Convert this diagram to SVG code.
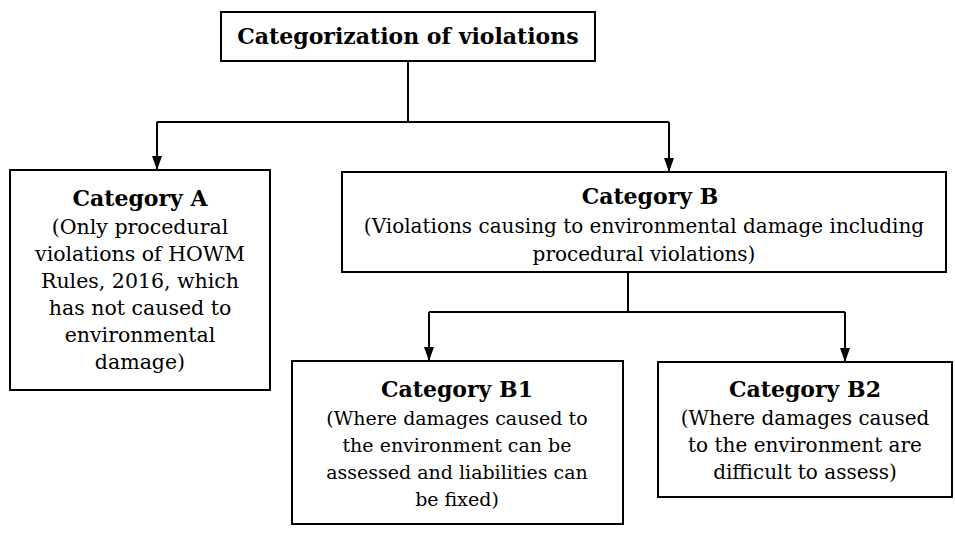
<svg xmlns="http://www.w3.org/2000/svg" width="955" height="538" viewBox="0 0 955 538">
<defs>
<style>
.box{fill:#fff;stroke:#000;stroke-width:2}
.hd{font-family:"DejaVu Serif","Liberation Serif",serif;font-weight:bold;font-size:22px;fill:#000;text-anchor:middle}
.bd{font-family:"DejaVu Serif","Liberation Serif",serif;font-size:20px;fill:#000;text-anchor:middle}
.cn{fill:none;stroke:#000;stroke-width:2}
</style>
<marker id="ah" viewBox="0 0 14 10" refX="14" refY="5" markerWidth="14" markerHeight="10" markerUnits="userSpaceOnUse" orient="auto">
<path d="M0,0 L14,5 L0,10 Z" fill="#000"/>
</marker>
</defs>
<rect width="955" height="538" fill="#fff"/>
<g id="connectors">
<path class="cn" d="M408,61 V122 M157,122 H669 M628,272 V312 M429,312 H845"/>
<path class="cn" d="M157,122 V170" marker-end="url(#ah)"/>
<path class="cn" d="M669,122 V172" marker-end="url(#ah)"/>
<path class="cn" d="M429,312 V361" marker-end="url(#ah)"/>
<path class="cn" d="M845,312 V362" marker-end="url(#ah)"/>
</g>
<g id="root">
<rect class="box" x="221" y="12" width="374" height="49"/>
<text class="hd" x="408" y="44">Categorization of violations</text>
</g>
<g id="catA">
<rect class="box" x="10" y="170" width="260" height="220"/>
<text class="hd" x="140" y="206">Category A</text>
<text class="bd" x="140" y="234" style="font-size:20.5px">(Only procedural</text>
<text class="bd" x="140" y="261" style="font-size:20.5px">violations of HOWM</text>
<text class="bd" x="140" y="288" style="font-size:20.5px">Rules, 2016, which</text>
<text class="bd" x="140" y="315" style="font-size:20.5px">has not caused to</text>
<text class="bd" x="140" y="342" style="font-size:20.5px">environmental</text>
<text class="bd" x="140" y="369" style="font-size:20.5px">damage)</text>
</g>
<g id="catB">
<rect class="box" x="342" y="172" width="604" height="100"/>
<text class="hd" x="650" y="204">Category B</text>
<text class="bd" x="644" y="233">(Violations causing to environmental damage including</text>
<text class="bd" x="644" y="261">procedural violations)</text>
</g>
<g id="catB1">
<rect class="box" x="292" y="361" width="331" height="163"/>
<text class="hd" x="457" y="397">Category B1</text>
<text class="bd" x="457" y="425" style="font-size:19px">(Where damages caused to</text>
<text class="bd" x="457" y="452" style="font-size:19px">the environment can be</text>
<text class="bd" x="457" y="479" style="font-size:19px">assessed and liabilities can</text>
<text class="bd" x="457" y="506" style="font-size:19px">be fixed)</text>
</g>
<g id="catB2">
<rect class="box" x="658" y="362" width="294" height="135"/>
<text class="hd" x="805" y="397">Category B2</text>
<text class="bd" x="805" y="425">(Where damages caused</text>
<text class="bd" x="805" y="452">to the environment are</text>
<text class="bd" x="805" y="479">difficult to assess)</text>
</g>
</svg>
